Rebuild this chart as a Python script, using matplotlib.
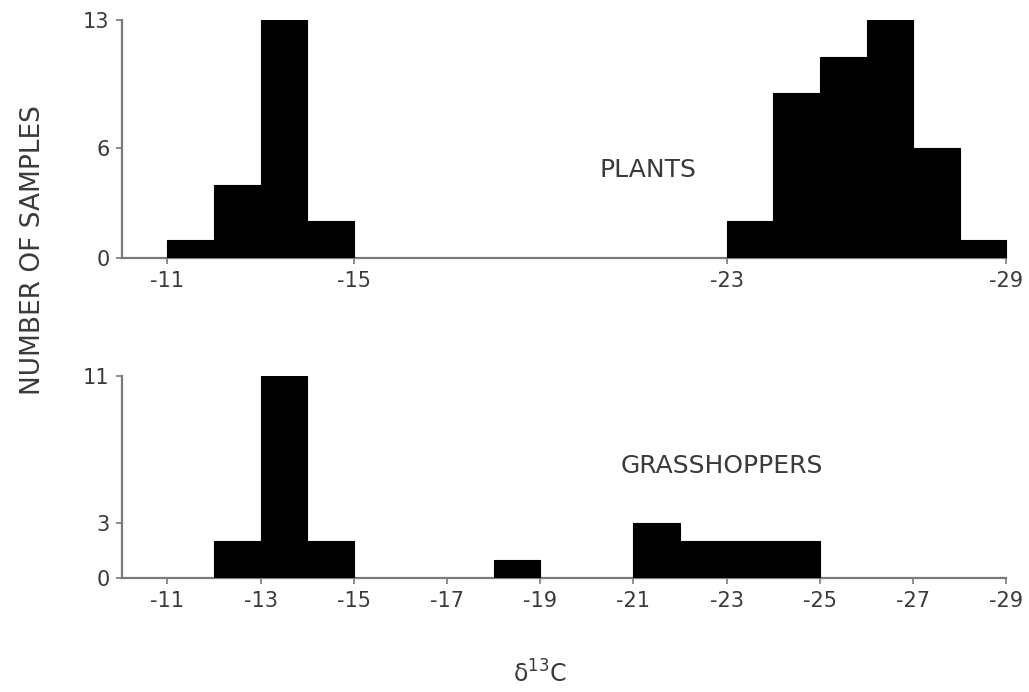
import numpy as np
import matplotlib
matplotlib.use('Agg')
import matplotlib.pyplot as plt

# ── data: histogram bins (left edge of each 1-per-mil bin) and counts ──
plant_bins   = [-11, -12, -13, -14, -23, -24, -25, -26, -27, -28]
plant_counts = [1, 4, 13, 2, 2, 9, 11, 13, 6, 1]

hopper_bins   = [-12, -13, -14, -18, -21, -22, -23, -24]
hopper_counts = [2, 11, 2, 1, 3, 2, 2, 2]

plant_xticks  = [-11, -15, -23, -29]
hopper_xticks = [-11, -13, -15, -17, -19, -21, -23, -25, -27, -29]
plant_yticks  = [0, 6, 13]
hopper_yticks = [0, 3, 11]

TXT = '#3a3a3a'
AX  = '#7a7a7a'

plt.rcParams.update({
    'font.family': 'DejaVu Sans',
    'font.size':   15,
})

fig = plt.figure(figsize=(10.29, 6.92), dpi=100)
axT = fig.add_axes([0.1186, 0.627, 0.864, 0.344])
axB = fig.add_axes([0.1186, 0.1647, 0.864, 0.292])


def style(ax, bins, counts, xticks, yticks, ymax):
    ax.bar(bins, counts, width=-1, align='edge', color='black',
           edgecolor='black', linewidth=0.8, zorder=3)
    ax.set_xlim(-10.03, -29.1)
    ax.set_ylim(0, ymax)
    for s in ('top', 'right'):
        ax.spines[s].set_visible(False)
    for s in ('left', 'bottom'):
        ax.spines[s].set_color(AX)
        ax.spines[s].set_linewidth(1.6)
    ax.spines['bottom'].set_bounds(-10.03, -29)
    ax.set_xticks(xticks)
    ax.set_xticklabels([str(t) for t in xticks])
    ax.set_yticks(yticks)
    ax.tick_params(axis='both', colors=AX, labelcolor=TXT,
                   labelsize=15, length=4, width=1.2, pad=5)


style(axT, plant_bins, plant_counts, plant_xticks, plant_yticks, 13)
style(axB, hopper_bins, hopper_counts, hopper_xticks, hopper_yticks, 11)

axT.text(-21.3, 4.8, 'PLANTS', fontsize=18, color=TXT,
         ha='center', va='center')
axB.text(-22.9, 6.1, 'GRASSHOPPERS', fontsize=18, color=TXT,
         ha='center', va='center')

fig.text(33 / 1029, 1 - 250 / 692, 'NUMBER OF SAMPLES', rotation=90,
         fontsize=19, color=TXT, ha='center', va='center')
fig.text(540 / 1029, 1 - 674 / 692, 'δ$^{13}$C', fontsize=17,
         color=TXT, ha='center', va='center')

fig.savefig('out.png', dpi=100, facecolor='white')
